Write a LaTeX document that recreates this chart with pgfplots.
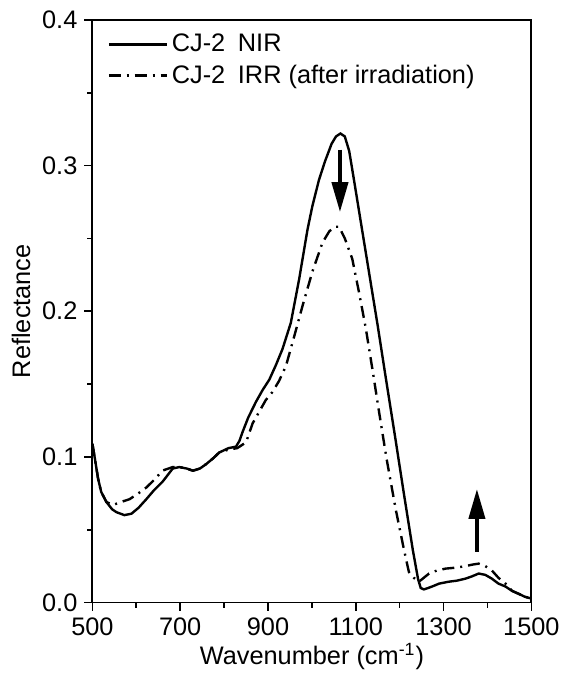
\documentclass[border=0pt]{standalone}
\usepackage{fontspec}
\setmainfont{Liberation Sans}
\usepackage{pgfplots}
\pgfplotsset{compat=1.18}
\usetikzlibrary{arrows.meta}

\begin{document}
\begin{tikzpicture}
\begin{axis}[
  scale only axis,
  width=220pt, height=292pt,
  xmin=500, xmax=1500, ymin=0, ymax=0.4,
  xtick={500,700,...,1500}, ytick={0,0.1,...,0.4},
  minor x tick num=1, minor y tick num=1,
  tick align=outside, xtick pos=bottom, ytick pos=left,
  major tick length=4pt, minor tick length=2.5pt,
  every tick/.style={black, line width=0.8pt},
  axis line style={line width=0.9pt},
  font=\fontsize{12.7}{14}\selectfont,
  /pgf/number format/assume math mode=true,
  xticklabel style={/pgf/number format/.cd, set thousands separator={}},
  yticklabel style={/pgf/number format/.cd, fixed, fixed zerofill, precision=1},
  xlabel={Wavenumber (cm\textsuperscript{-1})},
  xlabel style={yshift=3pt},
  ylabel={Reflectance},
  ylabel style={yshift=-1pt},
  legend style={draw=none, fill=none, at={(0.02,0.99)}, anchor=north west,
    font=\fontsize{12.7}{14}\selectfont, row sep=1pt},
  legend cell align=left,
  legend image code/.code={\draw[#1] (0pt,0pt) -- (29pt,0pt);},
]
\coordinate (bl) at (rel axis cs:-0.2105,-0.1233);
\coordinate (tr) at (rel axis cs:1.0613,1.0342);

\addplot[black, line width=1.2pt] table {
x y
500 0.109
505 0.100
513 0.085
520 0.076
532 0.069
545 0.064
555 0.062
573 0.060
589 0.061
605 0.065
623 0.071
640 0.077
660 0.083
683 0.092
698 0.093
715 0.092
729 0.0905
745 0.092
759 0.095
775 0.099
789 0.103
810 0.106
827 0.107
835 0.111
842 0.117
855 0.127
873 0.138
888 0.146
903 0.153
918 0.163
933 0.174
952 0.192
971 0.222
990 0.256
1001 0.272
1016 0.290
1030 0.303
1045 0.315
1055 0.320
1065 0.322
1075 0.320
1085 0.310
1096 0.290
1110 0.264
1130 0.227
1150 0.190
1168 0.155
1190 0.113
1210 0.074
1230 0.036
1242 0.016
1248 0.010
1255 0.009
1265 0.010
1274 0.011
1290 0.013
1312 0.0143
1330 0.015
1350 0.0164
1365 0.018
1380 0.0199
1395 0.019
1410 0.0164
1425 0.013
1441 0.011
1456 0.008
1471 0.006
1485 0.004
1500 0.0027
};
\addlegendentry{CJ-2\enspace NIR}

\addplot[black, line width=1.2pt, dash pattern=on 6pt off 3pt on 1pt off 3pt] table {
x y
500 0.109
505 0.100
513 0.085
520 0.076
532 0.069
547 0.067
565 0.069
585 0.071
605 0.075
623 0.079
640 0.084
660 0.0906
683 0.093
698 0.093
715 0.092
729 0.0905
745 0.092
759 0.095
775 0.099
789 0.103
810 0.105
830 0.106
840 0.108
850 0.110
865 0.123
880 0.131
895 0.139
910 0.1445
925 0.152
941 0.1625
960 0.183
979 0.204
1001 0.227
1024 0.247
1040 0.255
1054 0.258
1062 0.258
1075 0.250
1092 0.236
1108 0.212
1123 0.188
1138 0.160
1153 0.131
1170 0.099
1191 0.064
1210 0.036
1221 0.021
1232 0.017
1244 0.0143
1255 0.017
1267 0.0199
1285 0.022
1305 0.0233
1330 0.024
1350 0.025
1365 0.026
1380 0.0267
1395 0.025
1410 0.022
1425 0.017
1441 0.013
1456 0.008
1471 0.006
1485 0.004
1500 0.0027
};
\addlegendentry{CJ-2\enspace IRR (after irradiation)}

% arrows
\draw[line width=2pt, -{Triangle[length=15pt,width=8pt]}] (axis cs:1064,0.311) -- (axis cs:1064,0.268);
\draw[line width=2pt, -{Triangle[length=15pt,width=8pt]}] (axis cs:1376,0.035) -- (axis cs:1376,0.078);
\end{axis}
\path (bl) rectangle (tr);
\end{tikzpicture}
\end{document}
